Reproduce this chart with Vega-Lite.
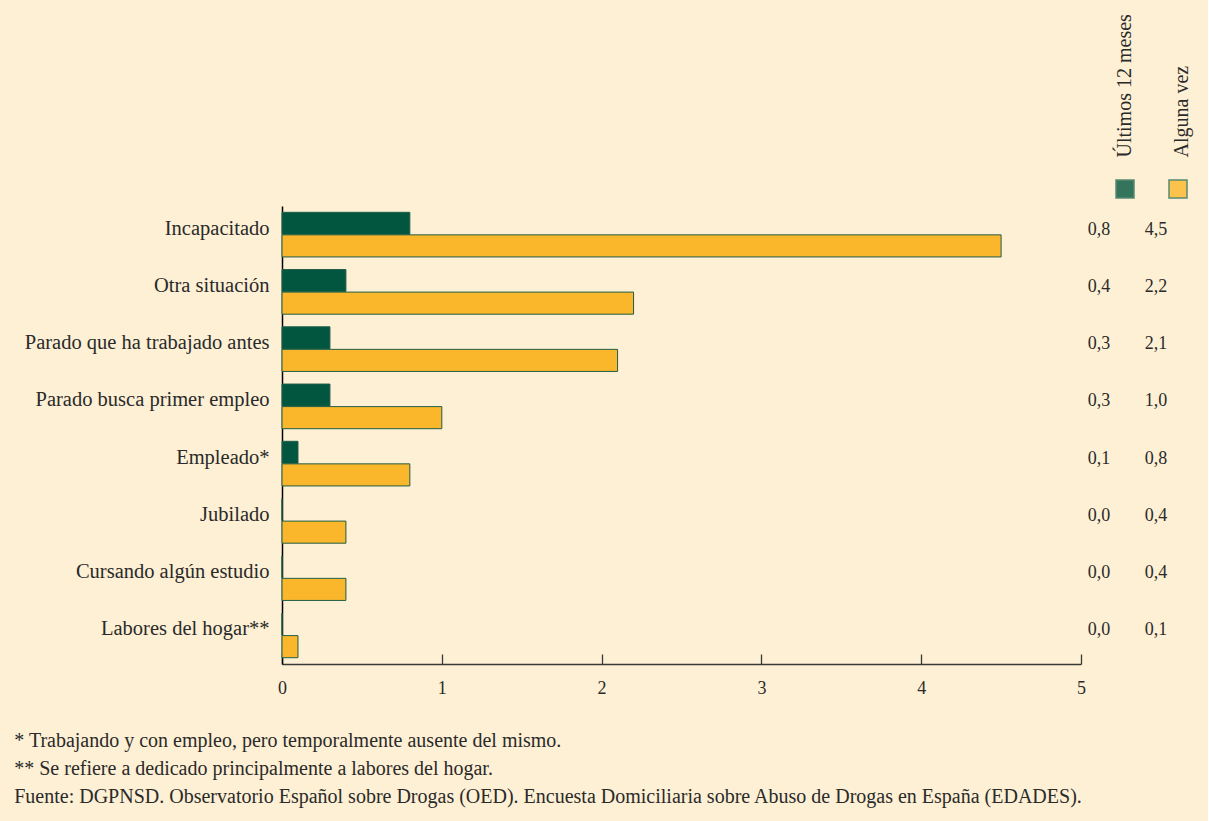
{
  "$schema": "https://vega.github.io/schema/vega-lite/v6.json",
  "background": "#FEF0D4",
  "padding": {"left": 14, "top": 13, "right": 17, "bottom": 16},
  "config": {
    "locale": {"number": {"decimal": ",", "thousands": ".", "grouping": [3], "currency": ["", " €"]}},
    "font": "Liberation Serif",
    "view": {"stroke": null},
    "concat": {"spacing": 18}
  },
  "bounds": "flush",
  "data": {
    "values": [
      {"situacion": "Incapacitado", "serie": "Últimos 12 meses", "valor": 0.8},
      {"situacion": "Incapacitado", "serie": "Alguna vez", "valor": 4.5},
      {"situacion": "Otra situación", "serie": "Últimos 12 meses", "valor": 0.4},
      {"situacion": "Otra situación", "serie": "Alguna vez", "valor": 2.2},
      {"situacion": "Parado que ha trabajado antes", "serie": "Últimos 12 meses", "valor": 0.3},
      {"situacion": "Parado que ha trabajado antes", "serie": "Alguna vez", "valor": 2.1},
      {"situacion": "Parado busca primer empleo", "serie": "Últimos 12 meses", "valor": 0.3},
      {"situacion": "Parado busca primer empleo", "serie": "Alguna vez", "valor": 1.0},
      {"situacion": "Empleado*", "serie": "Últimos 12 meses", "valor": 0.1},
      {"situacion": "Empleado*", "serie": "Alguna vez", "valor": 0.8},
      {"situacion": "Jubilado", "serie": "Últimos 12 meses", "valor": 0.0},
      {"situacion": "Jubilado", "serie": "Alguna vez", "valor": 0.4},
      {"situacion": "Cursando algún estudio", "serie": "Últimos 12 meses", "valor": 0.0},
      {"situacion": "Cursando algún estudio", "serie": "Alguna vez", "valor": 0.4},
      {"situacion": "Labores del hogar**", "serie": "Últimos 12 meses", "valor": 0.0},
      {"situacion": "Labores del hogar**", "serie": "Alguna vez", "valor": 0.1}
    ]
  },
  "title": {
    "text": [
      "* Trabajando y con empleo, pero temporalmente ausente del mismo.",
      "** Se refiere a dedicado principalmente a labores del hogar.",
      "Fuente: DGPNSD. Observatorio Español sobre Drogas (OED). Encuesta Domiciliaria sobre Abuso de Drogas en España (EDADES)."
    ],
    "orient": "bottom",
    "anchor": "start",
    "frame": "bounds",
    "font": "Liberation Serif",
    "fontSize": 20,
    "fontWeight": "normal",
    "color": "#2a2a2a",
    "lineHeight": 28,
    "offset": 34,
    "dx": -10
  },
  "hconcat": [
    {
      "width": 799,
      "height": 458,
      "mark": {"type": "bar", "stroke": "#1f5e48", "strokeWidth": 1},
      "encoding": {
        "y": {
          "field": "situacion",
          "type": "nominal",
          "sort": null,
          "scale": {"paddingInner": 0.22, "paddingOuter": 0.11},
          "axis": {
            "title": null,
            "ticks": false,
            "domainColor": "#000000",
            "domainWidth": 1.5,
            "labelFont": "Liberation Serif",
            "labelFontSize": 20.5,
            "labelColor": "#2a2a2a",
            "labelPadding": 13,
            "labelOffset": -6,
            "labelLimit": 400
          }
        },
        "x": {
          "field": "valor",
          "type": "quantitative",
          "scale": {"domain": [0, 5], "nice": false},
          "axis": {
            "title": null,
            "values": [0, 1, 2, 3, 4, 5],
            "grid": false,
            "tickSize": -10,
            "tickColor": "#3a3a3a",
            "tickWidth": 1.3,
            "domainColor": "#3a3a3a",
            "domainWidth": 1.5,
            "labelFont": "Liberation Serif",
            "labelFontSize": 18,
            "labelColor": "#2a2a2a",
            "labelPadding": 25,
            "labelFlush": false
          }
        },
        "yOffset": {
          "field": "serie",
          "type": "nominal",
          "scale": {"domain": ["Últimos 12 meses", "Alguna vez"], "paddingInner": 0.02}
        },
        "color": {
          "field": "serie",
          "type": "nominal",
          "scale": {"domain": ["Últimos 12 meses", "Alguna vez"], "range": ["#02553f", "#fbb72b"]},
          "legend": {
            "orient": "none",
            "legendX": 833,
            "legendY": -27,
            "direction": "horizontal",
            "title": null,
            "symbolType": "square",
            "symbolSize": 324,
            "symbolStrokeColor": "#2f7158",
            "symbolStrokeWidth": 1.5,
            "symbolOpacity": 0.8,
            "labelExpr": "''",
            "labelOffset": 0,
            "columnPadding": 29
          }
        }
      }
    },
    {
      "width": 57,
      "height": 458,
      "mark": {"type": "text", "font": "Liberation Serif", "fontSize": 18, "color": "#2a2a2a", "dy": -5},
      "encoding": {
        "y": {
          "field": "situacion",
          "type": "nominal",
          "sort": null,
          "scale": {"paddingInner": 0.22, "paddingOuter": 0.11},
          "axis": null
        },
        "x": {
          "field": "serie",
          "type": "nominal",
          "sort": null,
          "scale": {"type": "point", "domain": ["Últimos 12 meses", "Alguna vez"], "padding": 0},
          "axis": {
            "orient": "top",
            "title": null,
            "domain": false,
            "ticks": false,
            "labelAngle": -90,
            "labelAlign": "left",
            "labelBaseline": "middle",
            "labelOffset": 25,
            "labelPadding": 49,
            "labelFont": "Liberation Serif",
            "labelFontSize": 20,
            "labelColor": "#2a2a2a"
          }
        },
        "text": {"field": "valor", "type": "quantitative", "format": ".1f"}
      }
    }
  ]
}
